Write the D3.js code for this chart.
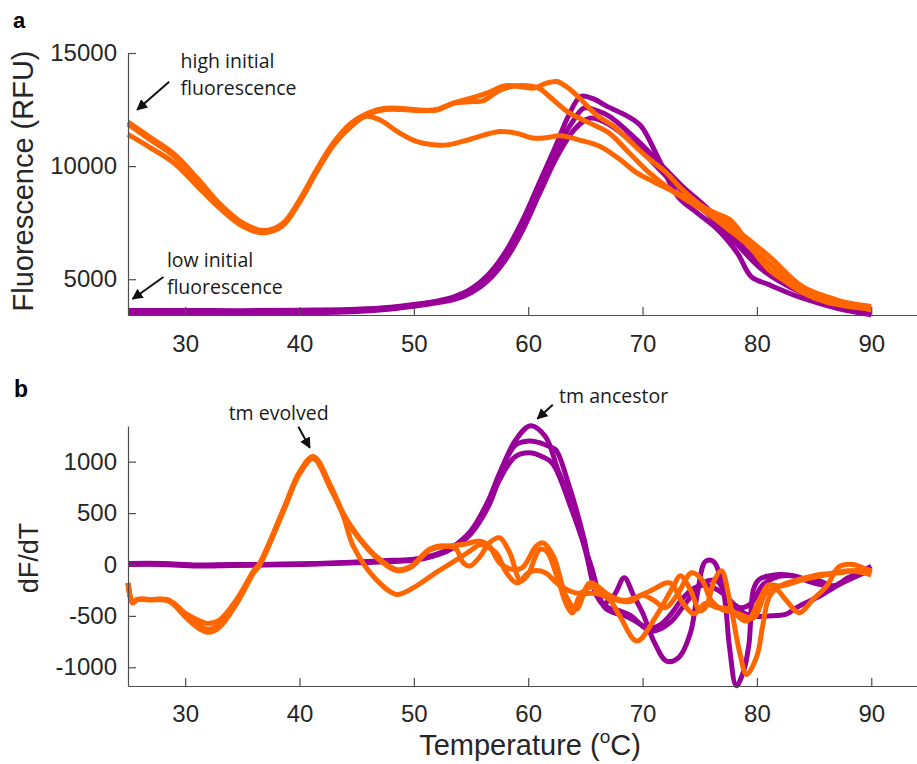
<!DOCTYPE html>
<html>
<head>
<meta charset="utf-8">
<script src="https://cdn.jsdelivr.net/npm/d3@7"></script>
<style>
  body { margin: 0; background: #fff; }
  svg { display: block; }
  .axis text { font-family: "Liberation Sans", Arial, sans-serif; font-size: 24px; fill: #262626; }
  .axis path, .axis line { stroke: #4d4d4d; stroke-width: 1.2px; }
  .note { font-family: "Open Sans", "Noto Sans", sans-serif; font-size: 19.5px; fill: #1a1a1a; }
</style>
</head>
<body>
<div id="chart"></div>
<script>
// temperature ticks shared by both panels
var tempTicks = [30, 40, 50, 60, 70, 80, 90];
var fluorTicks = [5000, 10000, 15000];
var derivTicks = [-1000, -500, 0, 500, 1000];

// panel a: raw melt curves, [temperature, RFU]
var fluorOrange = [
  [[25,11950],[27,11250],[29,10550],[31,9500],[33,8350],[35,7500],[36.8,7150],[38.5,7450],[40,8500],[41.5,9850],[43,11050],[44.5,11900],[46,12350],[47.5,12560],[49,12550],[50.5,12480],[52,12480],[53.5,12800],[55,13000],[56.5,13250],[58,13550],[59.5,13500],[60.5,13450],[61.5,13650],[62.5,13740],[63.5,13450],[64.5,13000],[66,12250],[67.5,11750],[69,11050],[70.5,10350],[72,9750],[73.5,8950],[75.3,8200],[76.5,7900],[77.6,7650],[78.4,7200],[79.4,6450],[81,5450],[82.5,4900],[84,4400],[86,4000],[88,3800],[90,3700]],
  [[25,11850],[27,11150],[29,10450],[31,9400],[33,8250],[35,7400],[36.8,7080],[38.5,7400],[40,8450],[41.5,9800],[43,11000],[44.5,11850],[46,12300],[47.5,12500],[49,12500],[50.5,12450],[52,12500],[53.5,12780],[55,12850],[56,12880],[57.5,13350],[59,13550],[60.9,13450],[61.8,13100],[63.6,12350],[65.4,11900],[67.1,11450],[68.8,10600],[70.6,9700],[72.9,8800],[75.3,8050],[77.9,7050],[80,6200],[81.1,5700],[84,4530],[87,4050],[90,3800]],
  [[25,11400],[27,10800],[29,10150],[31,9150],[33,8150],[35,7350],[36.8,7050],[38.5,7350],[40,8400],[41.5,9750],[43,10950],[44.5,11750],[45.8,12200],[47,12050],[48.8,11450],[50.2,11090],[51.7,10940],[53.1,10950],[55,11200],[57.5,11530],[59,11450],[60.4,11240],[61.5,11250],[62.8,11340],[64.5,11150],[66.3,10870],[68,10300],[69.5,9700],[71,9300],[72.4,8950],[75.3,8200],[78.2,7180],[81.1,6000],[84,4670],[87,4080],[90,3640]]
];
var fluorPurple = [
  [[25,3620],[30,3620],[35,3610],[40,3630],[45,3670],[48,3760],[50,3880],[52,4030],[53.5,4220],[55,4570],[56.5,5200],[58,6200],[59.5,7600],[61,9300],[62.5,11000],[63.5,12200],[64.6,13080],[65.8,12950],[66.9,12640],[68.7,12200],[69.9,11750],[71.3,10430],[73.1,8650],[74.8,7920],[76.6,7180],[78.3,6150],[79.5,5120],[81.1,4750],[84,4160],[87,3720],[90,3430]],
  [[25,3560],[30,3565],[35,3555],[40,3570],[45,3620],[48,3720],[50,3850],[52,4000],[53.5,4160],[55,4460],[56.5,5050],[58,6000],[59.5,7350],[61,9050],[62.5,10750],[63.8,11900],[64.9,12570],[66,12450],[67.1,12200],[69.5,11160],[71.5,10130],[73.5,9100],[75.8,8070],[78.2,6740],[80.5,5560],[82,5000],[84,4380],[87,3850],[90,3570]],
  [[25,3500],[30,3505],[35,3500],[40,3520],[45,3580],[48,3690],[50,3810],[52,3960],[53.5,4100],[55,4400],[56.5,4950],[58,5850],[59.5,7150],[61,8800],[62.5,10400],[64,11600],[65.4,12120],[67.1,11830],[69.5,10870],[72.4,9390],[75.3,8070],[77.9,6740],[80.5,5410],[84,4380],[87,3850],[90,3570]]
];

// panel b: first derivative, [temperature, dF/dT]
var derivOrange = [
  [[25,-180],[25.4,-370],[25.8,-340],[27,-340],[28.4,-340],[29,-375],[30.1,-480],[31.3,-550],[32,-575],[33,-540],[34.5,-340],[36,-60],[36.5,10],[38.6,540],[40,900],[41.2,1050],[42.7,770],[43.8,500],[44.7,340],[45.3,250],[46.7,80],[48.5,-50],[49.7,-20],[51.4,150],[52.9,180],[53.7,150],[54.3,20],[54.9,-15],[55.8,80],[56.6,210],[57.5,260],[58.4,110],[59.3,-150],[59.9,-90],[60.5,-60],[61.5,-80],[62.5,-180],[63.5,-250],[64.5,-280],[65.5,-220],[67,-320],[68.9,-360],[70,-300],[71,-350],[72,-420],[73,-300],[74.3,-80],[75.2,-150],[76,-350],[77,-440],[78.2,-470],[79.7,-520],[80.8,-275],[81.7,-245],[82.5,-340],[83.7,-470],[84.9,-340],[86.1,-210],[87.2,-20],[88.4,0],[89.6,-50],[90,-80]],
  [[25,-180],[25.4,-370],[25.8,-340],[27,-340],[28.4,-345],[29,-380],[30.1,-500],[31.3,-600],[32,-630],[33,-580],[34.5,-360],[36,-70],[36.5,0],[38.6,530],[40,890],[41.2,1040],[42.7,760],[43.8,500],[44.7,330],[45.3,240],[46.7,70],[48.5,-60],[49.7,-30],[51.4,140],[52.9,178],[54.5,200],[55.8,227],[56.6,178],[57.5,16],[58.7,-49],[59.5,-30],[60.7,178],[61.3,210],[62.2,81],[63.3,-307],[64.2,-437],[65.4,-180],[67.1,-300],[68.5,-350],[70.6,-260],[72.4,-180],[73.5,-370],[74.5,-480],[75.5,-380],[76.5,-420],[77.5,-430],[79.1,-550],[80.2,-350],[81,-200],[82,-210],[84,-150],[86,-100],[88,-60],[90,-100]],
  [[25,-180],[25.4,-375],[25.8,-345],[27,-345],[28.4,-350],[29,-390],[30.1,-520],[31.3,-630],[32,-660],[33,-610],[34.5,-380],[36,-80],[36.5,-10],[38.6,520],[40,880],[41.2,1030],[42.7,740],[43.8,480],[44.7,178],[46.7,-146],[48.5,-291],[50.2,-210],[51.9,-81],[54,65],[54.9,130],[55.8,194],[56.3,178],[57.2,113],[58.1,-81],[59,-178],[59.9,-113],[61,146],[61.6,130],[62.5,-113],[63.4,-405],[63.9,-470],[64.5,-310],[65.5,-280],[67,-330],[68,-500],[69.5,-745],[71.2,-500],[72.7,-210],[73.3,-110],[74.2,-250],[75,-450],[75.5,-420],[76.3,-150],[76.9,-60],[77.6,-340],[78.5,-860],[79.1,-1070],[80,-890],[80.5,-600],[81.1,-310],[82,-210],[83.7,-146],[85.5,-97],[87.2,-81],[89.6,-49],[90,-60]]
];
var derivPurple = [
  [[25,10],[28,10],[31,-5],[34,0],[37,0],[40,5],[43,15],[46,30],[48,40],[50,50],[52,100],[53.5,180],[55,330],[56.5,620],[57.5,890],[58.9,1210],[60.2,1350],[61.5,1245],[62.6,920],[63.8,600],[64.9,180],[65.8,-210],[66.5,-380],[67.5,-300],[68.4,-130],[69.2,-300],[70,-470],[71,-750],[72.1,-940],[73.2,-900],[74.2,-660],[74.8,-280],[75.5,30],[76.2,30],[77.1,-280],[77.6,-800],[78.2,-1180],[78.8,-1050],[79.3,-780],[79.7,-243],[80.2,-146],[82,-97],[83.4,-113],[84.3,-146],[85.5,-160],[86.7,-210],[88,-130],[89,-81],[90,-16]],
  [[25,5],[28,5],[31,-10],[34,-5],[37,0],[40,5],[43,12],[46,25],[48,35],[50,45],[52,95],[53.5,175],[55,320],[56.5,600],[57.5,880],[58.9,1165],[60,1200],[60.8,1190],[61.8,1150],[62.4,1117],[63.5,793],[64.9,243],[66,-307],[67,-420],[68,-450],[69,-500],[70,-600],[70.9,-650],[72.4,-566],[73.8,-372],[75.3,-178],[76.5,-160],[77.5,-330],[78.5,-420],[79.5,-380],[80.5,-200],[81.5,-130],[83,-110],[84.9,-178],[86.7,-210],[88,-130],[89,-80],[90,-30]],
  [[25,0],[28,0],[31,-15],[34,-10],[37,-5],[40,0],[43,10],[46,20],[48,30],[50,40],[52,90],[53.5,165],[55,300],[56.5,560],[57.5,825],[58.9,1052],[60.3,1085],[61.2,1050],[62.1,987],[63.8,534],[65.5,-16],[66.6,-405],[67.5,-470],[68.5,-500],[69.5,-560],[70.5,-620],[71.5,-590],[72.5,-480],[73.5,-330],[74.5,-230],[75.5,-200],[77,-280],[78.5,-450],[79.7,-502],[81,-500],[82.5,-486],[83.7,-405],[85.5,-307],[87.2,-194],[89,-100],[90,-50]]
];

// annotations in data units: label lines, text anchor, arrow tail, arrow tip
var notesA = [
  { lines: ["high initial", "fluorescence"], tx: 29.6, ty: [14350, 13150], from: [28.6, 13730], to: [25.8, 12490] },
  { lines: ["low initial", "fluorescence"], tx: 28.4, ty: [5553, 4358], from: [28.1, 5100], to: [25.4, 4128] }
];
var notesB = [
  { lines: ["tm evolved"], tx: 33.8, ty: [1408], from: [39.9, 1340], to: [40.9, 1136] },
  { lines: ["tm ancestor"], tx: 62.7, ty: [1573], from: [62.15, 1554], to: [60.8, 1418] }
];

var purple = "#990099", orange = "#ff6600";
var width = 917, height = 764;

var svg = d3.select("#chart").append("svg")
    .attr("width", width)
    .attr("height", height);

svg.append("defs").append("marker")
    .attr("id", "head")
    .attr("viewBox", "0 0 10 10")
    .attr("refX", 9).attr("refY", 5)
    .attr("markerWidth", 11).attr("markerHeight", 11)
    .attr("markerUnits", "userSpaceOnUse")
    .attr("orient", "auto")
  .append("path")
    .attr("d", "M0,0L10,5L0,10z")
    .attr("fill", "#111");

var x = d3.scaleLinear().domain([25, 94]).range([128, 917]);
var yA = d3.scaleLinear().domain([3420, 15000]).range([315, 53]);
var yB = d3.scaleLinear().domain([-1182, 1347]).range([686, 426]);

function drawPanel(y, yTicks, purples, oranges, notes, xPad, yPad) {
  var g = svg.append("g");

  var line = d3.line()
      .x(function(d) { return x(d[0]); })
      .y(function(d) { return y(d[1]); })
      .curve(d3.curveCatmullRom.alpha(0.5));

  g.selectAll(".p")
    .data(purples)
    .enter().append("path")
      .attr("d", line)
      .attr("fill", "none")
      .attr("stroke", purple)
      .attr("stroke-width", 5)
      .attr("stroke-linejoin", "round");

  g.selectAll(".o")
    .data(oranges)
    .enter().append("path")
      .attr("d", line)
      .attr("fill", "none")
      .attr("stroke", orange)
      .attr("stroke-width", 5)
      .attr("stroke-linejoin", "round");

  var y0 = y.range()[0];
  g.append("g")
      .attr("class", "axis")
      .attr("transform", "translate(0," + y0 + ")")
      .call(d3.axisBottom(x).tickValues(tempTicks).tickSizeInner(-8).tickSizeOuter(0).tickPadding(xPad))
      .call(function(a) { a.selectAll("text").attr("dy", "0.71em"); });

  g.append("g")
      .attr("class", "axis")
      .attr("transform", "translate(" + x.range()[0] + ",0)")
      .call(d3.axisLeft(y).tickValues(yTicks).tickSizeInner(-8).tickSizeOuter(0).tickPadding(yPad).tickFormat(d3.format("d")))
      .call(function(a) { a.selectAll("text").text(function(d) { return d < 0 ? "-" + Math.abs(d) : d; }); });

  notes.forEach(function(n) {
    n.lines.forEach(function(t, i) {
      g.append("text")
        .attr("class", "note")
        .attr("x", x(n.tx))
        .attr("y", y(n.ty[i]))
        .text(t);
    });
    g.append("line")
      .attr("x1", x(n.from[0])).attr("y1", y(n.from[1]))
      .attr("x2", x(n.to[0])).attr("y2", y(n.to[1]))
      .attr("stroke", "#111")
      .attr("stroke-width", 2)
      .attr("marker-end", "url(#head)");
  });
  return g;
}

drawPanel(yA, fluorTicks, fluorPurple, fluorOrange, notesA, 20, 11);
drawPanel(yB, derivTicks, derivPurple, derivOrange, notesB, 19, 11);

// panel letters and axis titles
var fontMain = "'Liberation Sans', Arial, sans-serif";
svg.append("text").attr("x", 13).attr("y", 28)
    .style("font-family", fontMain).style("font-weight", "bold").style("font-size", "22px")
    .text("a");
svg.append("text").attr("x", 14).attr("y", 397)
    .style("font-family", fontMain).style("font-weight", "bold").style("font-size", "23px")
    .text("b");

svg.append("text")
    .attr("transform", "translate(33,181) rotate(-90)")
    .attr("text-anchor", "middle")
    .style("font-family", fontMain).style("font-size", "29px").style("fill", "#262626")
    .text("Fluorescence (RFU)");

svg.append("text")
    .attr("transform", "translate(38,558) rotate(-90)")
    .attr("text-anchor", "middle")
    .style("font-family", fontMain).style("font-size", "27px").style("fill", "#262626")
    .text("dF/dT");

var xt = svg.append("text")
    .attr("x", 530).attr("y", 755)
    .attr("text-anchor", "middle")
    .style("font-family", fontMain).style("font-size", "29px").style("fill", "#262626");
xt.append("tspan").text("Temperature (");
xt.append("tspan").attr("dy", -12).style("font-size", "19px").text("o");
xt.append("tspan").attr("dy", 12).text("C)");
</script>
</body>
</html>
